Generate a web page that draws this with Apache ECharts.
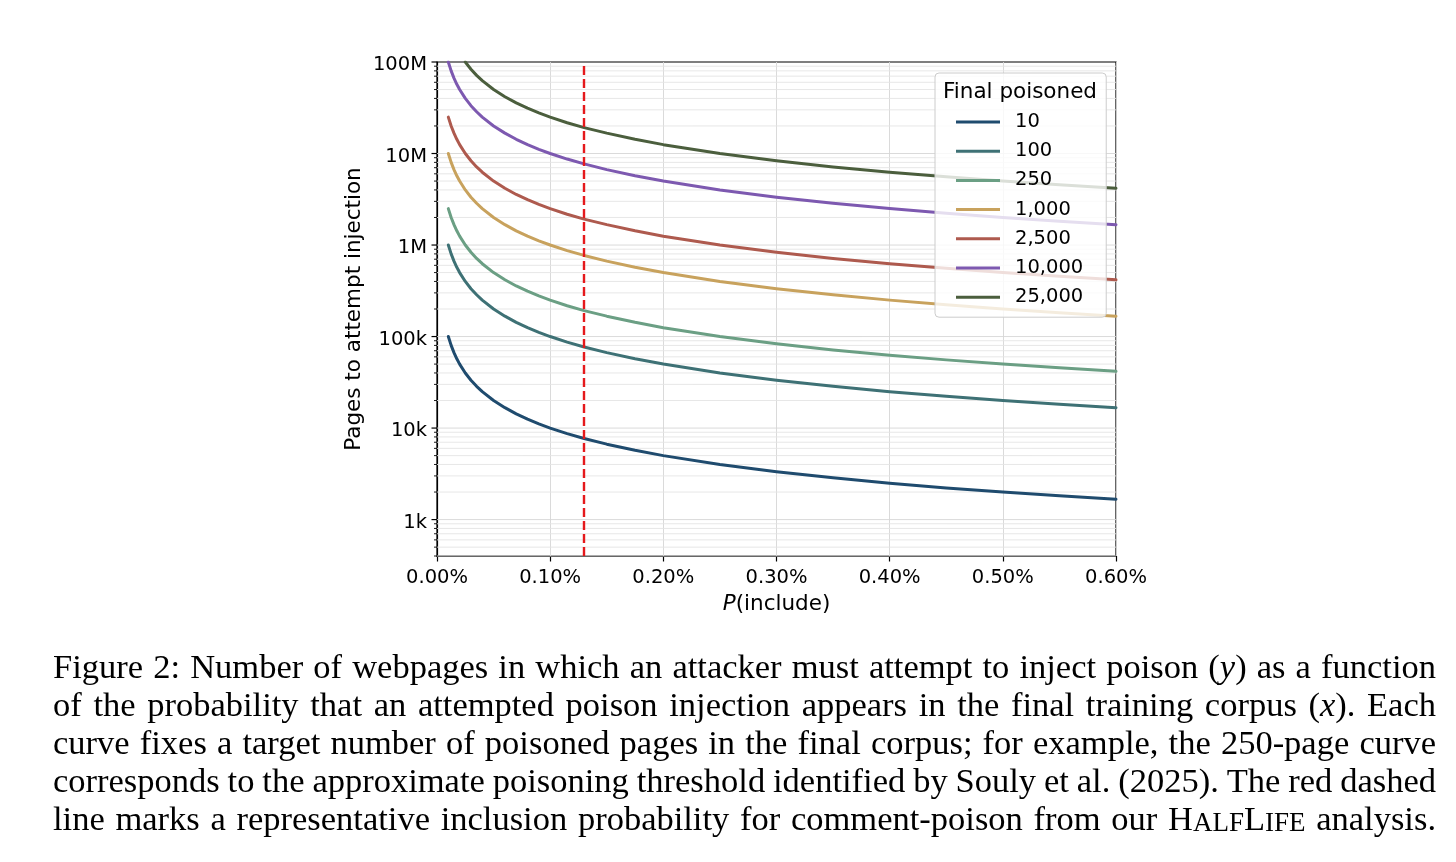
<!DOCTYPE html>
<html>
<head>
<meta charset="utf-8">
<script src="https://cdn.jsdelivr.net/npm/echarts@6/dist/echarts.min.js"></script>
<style>
html,body{margin:0;padding:0;background:#fff;}
#chart{width:1456px;height:862px;}
</style>
</head>
<body>
<div id="chart"></div>
<script>
// ---------- data ----------
const xValues = [0.01, 0.0125, 0.015, 0.0175, 0.02, 0.025, 0.03, 0.035, 0.04, 0.05, 0.06, 0.07, 0.08, 0.09, 0.10, 0.115, 0.13, 0.15, 0.175, 0.20, 0.25, 0.30, 0.35, 0.40, 0.45, 0.50, 0.55, 0.60];
const seriesNames = ['10', '100', '250', '1,000', '2,500', '10,000', '25,000'];
const s10    = [100000, 80000, 66700, 57100, 50000, 40000, 33300, 28600, 25000, 20000, 16700, 14300, 12500, 11100, 10000, 8700, 7700, 6670, 5710, 5000, 4000, 3330, 2860, 2500, 2220, 2000, 1820, 1670];
const s100   = [1000000, 800000, 667000, 571000, 500000, 400000, 333000, 286000, 250000, 200000, 167000, 143000, 125000, 111000, 100000, 87000, 77000, 66700, 57100, 50000, 40000, 33300, 28600, 25000, 22200, 20000, 18200, 16700];
const s250   = [2500000, 2000000, 1670000, 1430000, 1250000, 1000000, 833000, 714000, 625000, 500000, 417000, 357000, 313000, 278000, 250000, 217000, 192000, 167000, 143000, 125000, 100000, 83300, 71400, 62500, 55600, 50000, 45500, 41700];
const s1000  = [10000000, 8000000, 6670000, 5710000, 5000000, 4000000, 3330000, 2860000, 2500000, 2000000, 1670000, 1430000, 1250000, 1110000, 1000000, 870000, 770000, 667000, 571000, 500000, 400000, 333000, 286000, 250000, 222000, 200000, 182000, 167000];
const s2500  = [25000000, 20000000, 16700000, 14300000, 12500000, 10000000, 8330000, 7140000, 6250000, 5000000, 4170000, 3570000, 3130000, 2780000, 2500000, 2170000, 1920000, 1670000, 1430000, 1250000, 1000000, 833000, 714000, 625000, 556000, 500000, 455000, 417000];
const s10000 = [100000000, 80000000, 66700000, 57100000, 50000000, 40000000, 33300000, 28600000, 25000000, 20000000, 16700000, 14300000, 12500000, 11100000, 10000000, 8700000, 7700000, 6670000, 5710000, 5000000, 4000000, 3330000, 2860000, 2500000, 2220000, 2000000, 1820000, 1670000];
const s25000 = [null, null, null, null, null, 100000000, 83300000, 71400000, 62500000, 50000000, 41700000, 35700000, 31300000, 27800000, 25000000, 21700000, 19200000, 16700000, 14300000, 12500000, 10000000, 8330000, 7140000, 6250000, 5560000, 5000000, 4550000, 4170000];
const allSeries = [s10, s100, s250, s1000, s2500, s10000, s25000];
const seriesColors = ['#1f4b6e', '#3e7175', '#6b9f84', '#c8a25d', '#ae5a4e', '#7d59b0', '#4b5e3d'];
const refLineX = 0.13;

const xTicks = [0, 0.1, 0.2, 0.3, 0.4, 0.5, 0.6];
const yTickValues = [1e3, 1e4, 1e5, 1e6, 1e7, 1e8];
const yTickLabels = ['1k', '10k', '100k', '1M', '10M', '100M'];
const minorMultipliers = [2, 3, 4, 5, 6, 7, 8, 9];

const captionLines = [
  'Figure 2: Number of webpages in which an attacker must attempt to inject poison (_y_) as a function',
  'of the probability that an attempted poison injection appears in the final training corpus (_x_). Each',
  'curve fixes a target number of poisoned pages in the final corpus; for example, the 250-page curve',
  'corresponds to the approximate poisoning threshold identified by Souly et al. (2025). The red dashed',
  'line marks a representative inclusion probability for comment-poison from our H^ALF^L^IFE^ analysis.'
];

// ---------- layout ----------
const G = {left: 437, right: 1116, top: 62, bottom: 556};
const tickFont = '"DejaVu Sans", sans-serif';
const tickSize = 19.5, titleSize = 21.5;

// axis tick/grid positions for the log axis (major + minor)
const yGridItems = [];
[1e2, 1e3, 1e4, 1e5, 1e6, 1e7].forEach(dec => {
  minorMultipliers.forEach(m => {
    const v = dec * m;
    if (v >= 400 && v <= 1e8) yGridItems.push([0, v, 0]);
  });
});
yTickValues.forEach(v => yGridItems.push([0, v, 1]));

function yLabel(v) {
  for (let i = 0; i < yTickValues.length; i++) {
    if (Math.abs(Math.log10(v) - Math.log10(yTickValues[i])) < 1e-6) return '{v|' + yTickLabels[i] + '}';
  }
  return '';
}

const lineSeries = allSeries.map((arr, i) => {
  const data = [];
  arr.forEach((v, j) => { if (v !== null) data.push([xValues[j], v]); });
  const s = {
    name: seriesNames[i],
    type: 'line',
    data: data,
    showSymbol: false,
    symbol: 'none',
    smooth: false,
    lineStyle: {color: seriesColors[i], width: 3, join: 'round', cap: 'round'},
    itemStyle: {color: seriesColors[i]},
    z: 3,
    silent: true
  };
  if (i === allSeries.length - 1) {
    s.markLine = {
      silent: true,
      symbol: ['none', 'none'],
      label: {show: false},
      lineStyle: {color: '#e5191c', width: 2.4, type: [9, 4]},
      data: [{xAxis: refLineX}]
    };
  }
  return s;
});

const gridSeries = {
  type: 'custom',
  data: yGridItems,
  encode: {x: 0, y: 1},
  z: 1,
  silent: true,
  clip: false,
  renderItem: function (params, api) {
    const v = api.value(1);
    const major = api.value(2) === 1;
    const p0 = api.coord([xTicks[0], v]);
    const p1 = api.coord([xTicks[xTicks.length - 1], v]);
    const children = [];
    if (v < 1e8 * 0.999) {
      children.push({type: 'line', shape: {x1: p0[0], y1: p0[1], x2: p1[0], y2: p1[1]},
        style: {stroke: major ? '#d6d6d6' : '#e4e4e4', lineWidth: 0.9}});
    }
    children.push({type: 'line', shape: {x1: p0[0] - (major ? 5.5 : 3), y1: p0[1], x2: p0[0], y2: p0[1]},
      style: {stroke: '#000', lineWidth: major ? 1.2 : 0.9}});
    return {type: 'group', children: children};
  }
};

// ---------- caption (justified lines) ----------
const capSize = 34.5;
const capSmall = 27;
const capLeft = 53, capRight = 1436;
const capBaseline0 = 681, capLineStep = 38;
const mctx = document.createElement('canvas').getContext('2d');
function segFont(kind) {
  if (kind === 'i') return 'italic ' + capSize + 'px "Liberation Serif"';
  if (kind === 's') return capSmall + 'px "Liberation Serif"';
  return capSize + 'px "Liberation Serif"';
}
function parseWord(w) {
  const parts = w.split(/(_[^_]+_|\^[^\^]+\^)/).filter(p => p.length);
  return parts.map(p => {
    if (p[0] === '_') return {t: p.slice(1, -1), k: 'i'};
    if (p[0] === '^') return {t: p.slice(1, -1), k: 's'};
    return {t: p, k: 'n'};
  });
}
const captionGraphics = [];
captionLines.forEach((line, li) => {
  const words = line.split(' ').map(parseWord);
  const widths = words.map(segs => segs.reduce((acc, s) => {
    mctx.font = segFont(s.k);
    s.w = mctx.measureText(s.t).width;
    return acc + s.w;
  }, 0));
  const total = widths.reduce((a, b) => a + b, 0);
  const gap = (capRight - capLeft - total) / (words.length - 1);
  const baseline = capBaseline0 + li * capLineStep;
  let x = capLeft;
  words.forEach((segs) => {
    segs.forEach(s => {
      const size = s.k === 's' ? capSmall : capSize;
      captionGraphics.push({
        type: 'text', x: x, y: baseline - 0.3375 * size, silent: true,
        style: {text: s.t, font: segFont(s.k), fill: '#000', textAlign: 'left', textVerticalAlign: 'middle', verticalAlign: 'middle'}
      });
      x += s.w;
    });
    x += gap;
  });
});

const chart = echarts.init(document.getElementById('chart'), null, {renderer: 'canvas'});
chart.setOption({
  animation: false,
  backgroundColor: '#ffffff',
  grid: {
    left: G.left, top: G.top, width: G.right - G.left, height: G.bottom - G.top,
    show: true, borderColor: '#000', borderWidth: 1.2, backgroundColor: 'transparent'
  },
  xAxis: {
    type: 'value', min: xTicks[0], max: xTicks[xTicks.length - 1], interval: 0.1,
    name: '{i|P}(include)', nameLocation: 'middle', nameGap: 37,
    nameTextStyle: {fontFamily: tickFont, fontSize: titleSize, color: '#000',
      rich: {i: {fontFamily: tickFont, fontSize: titleSize, fontStyle: 'italic', color: '#000'}}},
    axisLine: {show: true, lineStyle: {color: '#000', width: 1.2}},
    axisTick: {show: true, length: 5.5, lineStyle: {color: '#000', width: 1.2}},
    axisLabel: {fontFamily: tickFont, fontSize: tickSize, color: '#000', margin: 12,
      formatter: v => v.toFixed(2) + '%'},
    splitLine: {show: true, lineStyle: {color: '#d6d6d6', width: 0.9}}
  },
  yAxis: {
    type: 'log', logBase: 10, min: 400, max: 1e8,
    name: 'Pages to attempt injection', nameLocation: 'middle', nameGap: 72, nameRotate: 90,
    nameTextStyle: {fontFamily: tickFont, fontSize: titleSize, color: '#000'},
    axisLine: {show: true, lineStyle: {color: '#000', width: 1.2}},
    axisTick: {show: false},
    axisLabel: {fontFamily: tickFont, fontSize: tickSize, color: '#000', margin: 10,
      formatter: yLabel, showMinLabel: true, showMaxLabel: true,
      rich: {v: {fontFamily: tickFont, fontSize: tickSize, color: '#000', padding: [6, 0, 0, 0]}}},
    splitLine: {show: false},
    minorTick: {show: false},
    minorSplitLine: {show: false}
  },
  legend: {
    data: seriesNames,
    orient: 'vertical',
    left: 935, top: 73,
    padding: [39, 23, 10, 21],
    itemWidth: 44, itemHeight: 3, itemGap: 9.2,
    icon: 'rect',
    selectedMode: false,
    backgroundColor: 'rgba(255,255,255,0.8)',
    borderColor: '#cccccc', borderWidth: 1, borderRadius: 4,
    textStyle: {fontFamily: tickFont, fontSize: tickSize, color: '#000', padding: [0, 0, 0, 10]},
    z: 10
  },
  graphic: [
    {type: 'text', left: 943, top: 81, z: 100, silent: true,
      style: {text: 'Final poisoned', font: titleSize + 'px "DejaVu Sans"', fill: '#000'}}
  ].concat(captionGraphics),
  series: [gridSeries].concat(lineSeries)
});
</script>
</body>
</html>
